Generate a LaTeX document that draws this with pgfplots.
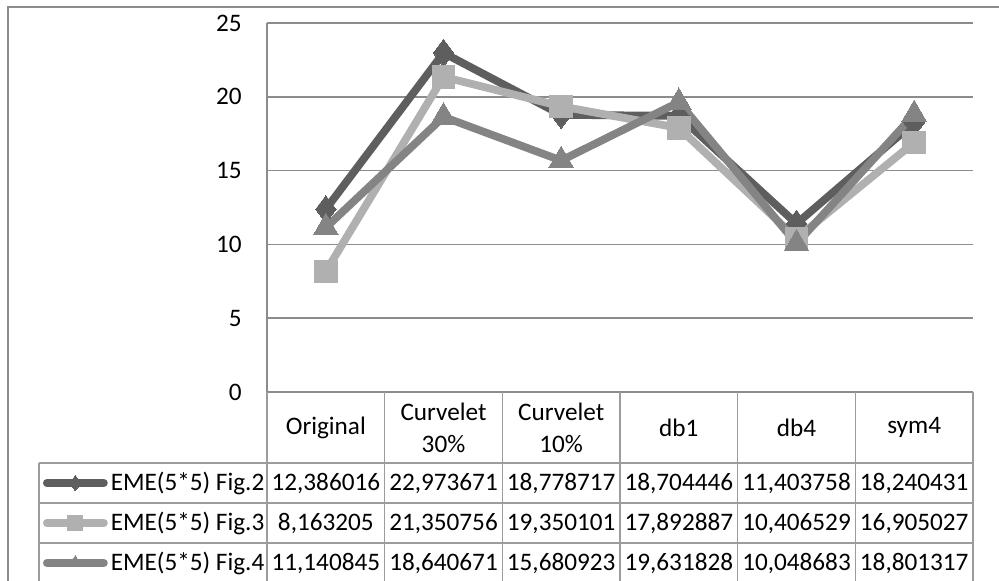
\documentclass[border=0pt]{standalone}
\usepackage{pgfplots}
\pgfplotsset{compat=1.18}
\usepackage{fontspec}
\setmainfont{Carlito}

\definecolor{figa}{HTML}{5E5E5E}
\definecolor{figb}{HTML}{B0B0B0}
\definecolor{figc}{HTML}{848484}
\definecolor{gridc}{HTML}{8C8C8C}
\definecolor{tabc}{HTML}{9C9C9C}

% EME(5*5) values, one column per figure
\pgfplotstableread{
x  f2         f3         f4
0  12.386016  8.163205   11.140845
1  22.973671  21.350756  18.640671
2  18.778717  19.350101  15.680923
3  18.704446  17.892887  19.631828
4  11.403758  10.406529  10.048683
5  18.240431  16.905027  18.801317
}\emedata

\newcommand\txt{\fontsize{12.6}{16}\selectfont}

\begin{document}
\begin{tikzpicture}[x=0.5pt, y=0.5pt]
\useasboundingbox (0,0) rectangle (999,581);
% outer frame (top and left edges only are visible)
\draw[gridc, line width=0.75pt] (8,0) -- (8,574) -- (999,574);

\begin{axis}[
    at={(133.5pt,94.5pt)}, anchor=south west,
    scale only axis, width=353pt, height=184.5pt,
    xmin=-0.5, xmax=5.5, ymin=0, ymax=25,
    xtick={0,...,5},
    xticklabels={Original,{Curvelet\\30\%},{Curvelet\\10\%},db1,db4,sym4},
    ytick={0,5,...,25},
    axis lines=left,
    axis line style={-, draw=gridc, line width=0.75pt},
    ymajorgrids, grid style={gridc, line width=0.75pt},
    major tick length=0pt,
    tick label style={font=\txt},
    xticklabel style={anchor=center, yshift=-17.75pt, align=center},
    yticklabel style={inner sep=0pt, xshift=-12.5pt},
    /pgf/number format/assume math mode=true,
    clip=false,
    every axis plot/.append style={line width=3.9pt, line join=round, line cap=round},
    legend cell align=left,
    legend image code/.code={
        \draw[mark repeat=2, mark phase=2, mark size=3.8pt]
            plot coordinates {(0pt,0pt) (14.25pt,0pt) (28.5pt,0pt)};},
    legend style={at={(-0.3173,-0.1924)}, anchor=north west,
        draw=none, fill=none, inner sep=0pt, outer sep=0pt,
        row sep=0pt, column sep=1.5pt,
        nodes={inner sep=0pt, minimum height=20pt, font=\txt}},
]
\addplot[figa, mark=diamond*, mark size=6.8pt,
    mark options={fill=figa, line width=0pt}] table[x=x, y=f2] {\emedata};
\addlegendentry{EME(5*5) Fig.2}
\addplot[figb, mark=square*, mark size=5.6pt,
    mark options={fill=figb, line width=0pt}] table[x=x, y=f3] {\emedata};
\addlegendentry{EME(5*5) Fig.3}
\addplot[figc, mark=triangle*, mark size=7.2pt,
    mark options={fill=figc, line width=0pt}] table[x=x, y=f4] {\emedata};
\addlegendentry{EME(5*5) Fig.4}

% data table text
\begin{scope}[every node/.style={anchor=base, font=\txt, inner sep=0pt}]
\node at (axis cs:0,-6.707) {12,386016};
\node at (axis cs:1,-6.707) {22,973671};
\node at (axis cs:2,-6.707) {18,778717};
\node at (axis cs:3,-6.707) {18,704446};
\node at (axis cs:4,-6.707) {11,403758};
\node at (axis cs:5,-6.707) {18,240431};
\node at (axis cs:0,-9.417) {8,163205};
\node at (axis cs:1,-9.417) {21,350756};
\node at (axis cs:2,-9.417) {19,350101};
\node at (axis cs:3,-9.417) {17,892887};
\node at (axis cs:4,-9.417) {10,406529};
\node at (axis cs:5,-9.417) {16,905027};
\node at (axis cs:0,-12.127) {11,140845};
\node at (axis cs:1,-12.127) {18,640671};
\node at (axis cs:2,-12.127) {15,680923};
\node at (axis cs:3,-12.127) {19,631828};
\node at (axis cs:4,-12.127) {10,048683};
\node at (axis cs:5,-12.127) {18,801317};
\end{scope}
\end{axis}

% data table grid
\begin{scope}[tabc, line width=0.75pt]
\draw (39,118) -- (973,118);
\draw (39,78) -- (973,78);
\draw (39,38) -- (973,38);
\draw (39,118) -- (39,0);
\draw (267,189) -- (267,0);
\foreach \k in {1,...,6} {
    \draw ({267+117.667*\k},189) -- ({267+117.667*\k},0);
}
\end{scope}
\end{tikzpicture}
\end{document}
